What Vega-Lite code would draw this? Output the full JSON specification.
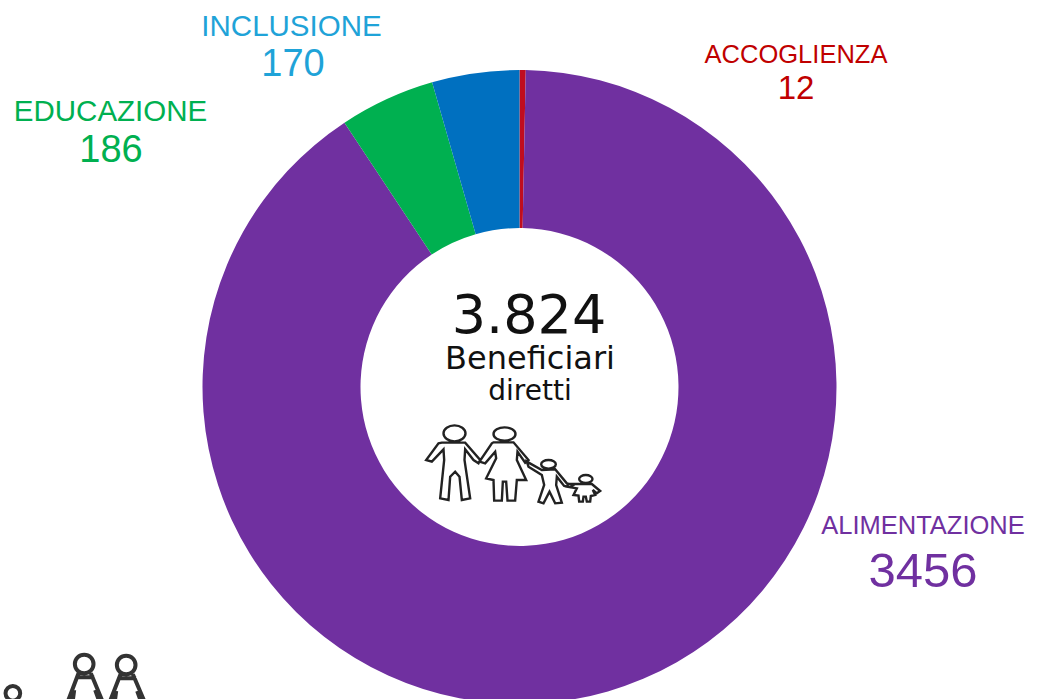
{"$schema":"https://vega.github.io/schema/vega-lite/v6.json","width":1039,"height":774,"padding":0,"autosize":"none","background":"white","view":{"stroke":null},"config":{"text":{"font":"Liberation Sans"}},
"datasets":{"main":[{"name":"ACCOGLIENZA","value":12,"rank":1},{"name":"ALIMENTAZIONE","value":3456,"rank":2},{"name":"EDUCAZIONE","value":186,"rank":3},{"name":"INCLUSIONE","value":170,"rank":4}],"acc":[{"name":"ACCOGLIENZA","value":12}],"ali":[{"name":"ALIMENTAZIONE","value":3456}],"edu":[{"name":"EDUCAZIONE","value":186}],"inc":[{"name":"INCLUSIONE","value":170}],"tot":[{"total":"3.824","l1":"Beneficiari","l2":"diretti"}]},
"layer":[
{"data":{"name":"main"},"mark":{"type":"arc","radius":317,"radius2":159},"encoding":{"theta":{"field":"value","type":"quantitative","stack":true},"order":{"field":"rank","type":"ordinal"},"color":{"field":"name","type":"nominal","legend":null,"scale":{"domain":["ACCOGLIENZA","ALIMENTAZIONE","EDUCAZIONE","INCLUSIONE"],"range":["#C00D1E","#7030A0","#00B050","#0070C0"]}}}},
{"data":{"name":"acc"},"mark":{"type":"text","fontSize":25.5,"color":"#C00000","dx":276.5,"dy":-332},"encoding":{"text":{"field":"name","type":"nominal"}}},
{"data":{"name":"acc"},"mark":{"type":"text","fontSize":33,"color":"#C00000","dx":276.5,"dy":-298},"encoding":{"text":{"field":"value","type":"nominal"}}},
{"data":{"name":"inc"},"mark":{"type":"text","fontSize":29.5,"color":"#1FA3D8","dx":-228,"dy":-360},"encoding":{"text":{"field":"name","type":"nominal"}}},
{"data":{"name":"inc"},"mark":{"type":"text","fontSize":38,"color":"#1FA3D8","dx":-226.5,"dy":-322},"encoding":{"text":{"field":"value","type":"nominal"}}},
{"data":{"name":"edu"},"mark":{"type":"text","fontSize":29.5,"color":"#00B050","dx":-409,"dy":-275},"encoding":{"text":{"field":"name","type":"nominal"}}},
{"data":{"name":"edu"},"mark":{"type":"text","fontSize":38,"color":"#00B050","dx":-408.5,"dy":-236},"encoding":{"text":{"field":"value","type":"nominal"}}},
{"data":{"name":"ali"},"mark":{"type":"text","fontSize":25.5,"color":"#7030A0","dx":403.5,"dy":139},"encoding":{"text":{"field":"name","type":"nominal"}}},
{"data":{"name":"ali"},"mark":{"type":"text","fontSize":49,"color":"#7030A0","dx":403.5,"dy":185},"encoding":{"text":{"field":"value","type":"nominal"}}},
{"data":{"name":"tot"},"mark":{"type":"text","font":"DejaVu Sans","fontSize":54,"color":"#111111","dx":9.5,"dy":-70},"encoding":{"text":{"field":"total","type":"nominal"}}},
{"data":{"name":"tot"},"mark":{"type":"text","font":"DejaVu Sans","fontSize":32,"color":"#111111","dx":10.5,"dy":-28},"encoding":{"text":{"field":"l1","type":"nominal"}}},
{"data":{"name":"tot"},"mark":{"type":"text","font":"DejaVu Sans","fontSize":28,"color":"#111111","dx":10.5,"dy":5},"encoding":{"text":{"field":"l2","type":"nominal"}}},
{"data":{"name":"tot"},"mark":{"type":"point","filled":false,"size":0.4444,"stroke":"#222222","strokeWidth":2.4,"opacity":1,"shape":"M-228,139A33,24 0 1 1 -162,139A33,24 0 1 1 -228,139ZM-233,167L-163,167L-118,219L-123,229L-138,219L-163,187L-165,219L-148,334L-173,339L-180,269L-193,254L-208,269L-213,339L-238,334L-226,219L-228,187L-263,224L-280,219L-243,169ZM-78,141A33,20 0 1 1 -12,141A33,20 0 1 1 -78,141ZM-78,166L-18,166L27,219L17,227L-6,194L-8,219L20,279L-8,279L-13,341L-36,341L-40,284L-50,284L-53,341L-76,341L-78,279L-100,274L-70,214L-73,194L-103,229L-120,224L-83,169ZM65,232A22,13 0 1 1 109,232A22,13 0 1 1 65,232ZM22,224L67,249L107,247L142,289L162,294L152,301L134,297L112,269L110,294L127,347L107,349L90,314L72,349L57,344L74,294L67,264L27,239ZM179,276A20,12 0 1 1 219,276A20,12 0 1 1 179,276ZM182,291L217,291L242,312L232,319L220,309L227,324L214,327L212,344L202,344L199,329L192,329L190,344L179,344L177,326L162,324L172,304L142,299L147,291Z"},"encoding":{}},
{"data":{"name":"tot"},"mark":{"type":"point","filled":false,"size":0.4444,"stroke":"#333333","strokeWidth":4,"opacity":1,"shape":"M-1334,831A28,28 0 1 1 -1278,831A28,28 0 1 1 -1334,831ZM-1323,859L-1365,970M-1286,859L-1240,970M-1330,871L-1276,871M-1336,909L-1340,940M-1273,909L-1260,945M-1208,834A28,28 0 1 1 -1152,834A28,28 0 1 1 -1208,834ZM-1197,862L-1239,970M-1160,862L-1114,970M-1204,874L-1150,874M-1210,912L-1214,943M-1147,912L-1134,948M-1542,919A22,22 0 1 1 -1498,919A22,22 0 1 1 -1542,919Z"},"encoding":{}}
]}
